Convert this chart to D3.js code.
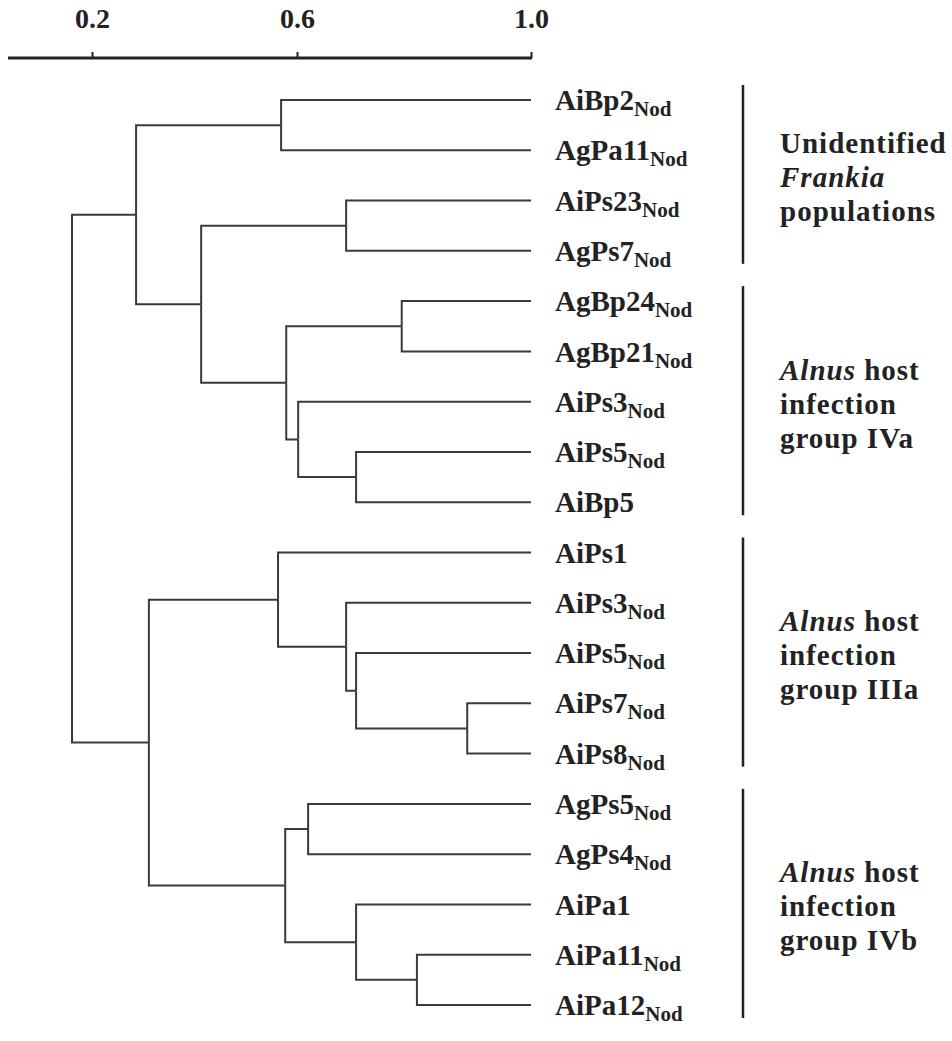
<!DOCTYPE html>
<html>
<head>
<meta charset="utf-8">
<script src="https://cdn.jsdelivr.net/npm/d3@7"></script>
<style>
  body { margin: 0; background: #fff; }
  svg text { font-family: "Liberation Serif", "Times New Roman", Times, serif; font-weight: bold; fill: #222; }
</style>
</head>
<body>
<div id="chart"></div>
<script>
// leaves, top to bottom
var leafNames = ["AiBp2", "AgPa11", "AiPs23", "AgPs7", "AgBp24", "AgBp21", "AiPs3", "AiPs5", "AiBp5",
                 "AiPs1", "AiPs3", "AiPs5", "AiPs7", "AiPs8",
                 "AgPs5", "AgPs4", "AiPa1", "AiPa11", "AiPa12"];
// 1 = label carries the "Nod" subscript
var leafNod = [1, 1, 1, 1, 1, 1, 1, 1, 0, 0, 1, 1, 1, 1, 1, 1, 0, 1, 1];

// merges [a, b, similarity]; 0-18 are leaves, 19+ are earlier merges in this list
var merges = [
  [0, 1, 0.569],    // 19
  [2, 3, 0.684],    // 20
  [4, 5, 0.779],    // 21
  [7, 8, 0.701],    // 22
  [6, 22, 0.602],   // 23
  [21, 23, 0.579],  // 24
  [20, 24, 0.413],  // 25
  [19, 25, 0.286],  // 26
  [12, 13, 0.891],  // 27
  [11, 27, 0.701],  // 28
  [10, 28, 0.684],  // 29
  [9, 29, 0.563],   // 30
  [14, 15, 0.619],  // 31
  [17, 18, 0.805],  // 32
  [16, 32, 0.701],  // 33
  [31, 33, 0.577],  // 34
  [30, 34, 0.311],  // 35
  [26, 35, 0.161]   // 36 root
];

var tickValues = [0.2, 0.6, 1.0];

// groups on the right: first leaf, last leaf, text lines ([text, italic] pieces)
var groupFirst = [0, 4, 9, 14];
var groupLast = [3, 8, 13, 18];
var groupText = [
  [[["Unidentified", false]], [["Frankia", true]], [["populations", false]]],
  [[["Alnus", true], [" host", false]], [["infection", false]], [["group IVa", false]]],
  [[["Alnus", true], [" host", false]], [["infection", false]], [["group IIIa", false]]],
  [[["Alnus", true], [" host", false]], [["infection", false]], [["group IVb", false]]]
];

var width = 952, height = 1041;

var svg = d3.select("#chart").append("svg")
  .attr("width", width)
  .attr("height", height);

// the printed axis is not evenly spaced, so map through the three ticks
var x = d3.scaleLinear().domain(tickValues).range([92, 297, 531]);
var y = d3.scalePoint().domain(d3.range(leafNames.length)).range([100, 1005]);

// build the tree from the merge list
var nodes = leafNames.map(function(name, i) {
  return { name: name, nod: leafNod[i], index: i, value: 1.0 };
});
merges.forEach(function(m) {
  nodes.push({ children: [nodes[m[0]], nodes[m[1]]], value: m[2] });
});
var root = d3.hierarchy(nodes[nodes.length - 1]);

// each node sits halfway between its children
root.eachAfter(function(d) {
  d.py = d.children ? (d.children[0].py + d.children[1].py) / 2 : y(d.data.index);
  d.px = x(d.data.value);
});

// elbow links
svg.append("g")
  .selectAll("path")
  .data(root.links())
  .enter().append("path")
  .attr("d", function(l) {
    return "M" + l.source.px + "," + l.source.py + "V" + l.target.py + "H" + l.target.px;
  })
  .attr("fill", "none")
  .attr("stroke", "#3a3a3a")
  .attr("stroke-width", 2);

// axis on top
var axisY = 58;
var axis = svg.append("g")
  .attr("transform", "translate(0," + axisY + ")")
  .call(d3.axisTop(x).tickValues(tickValues).tickSize(6).tickPadding(24).tickFormat(d3.format(".1f")));
axis.select(".domain").remove();
axis.selectAll(".tick line").attr("stroke", "#222").attr("stroke-width", 2);
axis.selectAll(".tick text").attr("font-size", 28).attr("fill", "#222");
axis.append("line")
  .attr("x1", 8)
  .attr("x2", x(1.0) + 1)
  .attr("stroke", "#222")
  .attr("stroke-width", 3);

// leaf labels
var labels = svg.append("g")
  .selectAll("text")
  .data(root.leaves())
  .enter().append("text")
  .attr("x", 555)
  .attr("y", function(d) { return d.py; })
  .attr("dy", "0.35em")
  .attr("font-size", 29);
labels.append("tspan").text(function(d) { return d.data.name; });
labels.filter(function(d) { return d.data.nod; })
  .append("tspan")
  .attr("font-size", 21)
  .attr("dy", 6)
  .text("Nod");

// group brackets and captions
var groups = svg.append("g")
  .selectAll("g")
  .data(groupText)
  .enter().append("g");

groups.append("line")
  .attr("x1", 743).attr("x2", 743)
  .attr("y1", function(d, i) { return y(groupFirst[i]) - 15; })
  .attr("y2", function(d, i) { return y(groupLast[i]) + 13; })
  .attr("stroke", "#222")
  .attr("stroke-width", 2.5);

groups.each(function(lines, i) {
  var mid = (y(groupFirst[i]) + y(groupLast[i])) / 2 + 12;
  var g = d3.select(this);
  lines.forEach(function(pieces, j) {
    var t = g.append("text")
      .attr("x", 780)
      .attr("y", mid + (j - 1) * 34)
      .attr("font-size", 29)
      .attr("letter-spacing", 1);
    pieces.forEach(function(p) {
      t.append("tspan")
        .attr("font-style", p[1] ? "italic" : "normal")
        .text(p[0]);
    });
  });
});
</script>
</body>
</html>
